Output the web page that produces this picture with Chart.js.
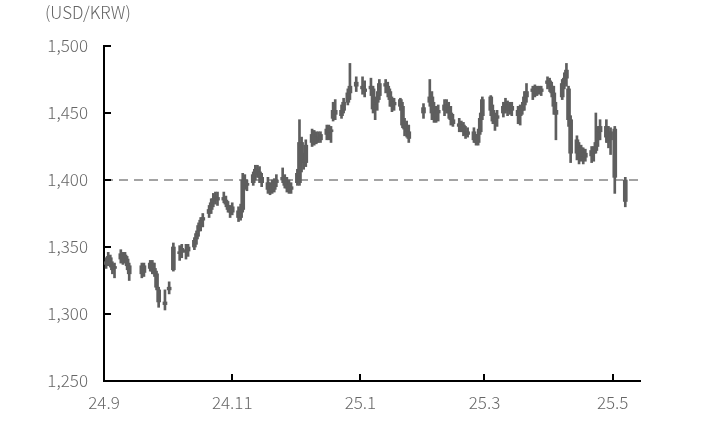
<!DOCTYPE html>
<html>
<head>
<meta charset="utf-8">
<script src="https://cdn.jsdelivr.net/npm/chart.js@4.4.1/dist/chart.umd.min.js"></script>
<style>
  html, body { margin: 0; padding: 0; background: #fff; }
  #wrap { width: 705px; height: 426px; position: relative; }
</style>
</head>
<body>
<div id="wrap"><canvas id="fxChart"></canvas></div>
<script>
// USD/KRW daily bars, Sep 2024 - May 2025
const dates = [
  '2024-09-02','2024-09-03','2024-09-04','2024-09-05','2024-09-06','2024-09-09','2024-09-10','2024-09-11','2024-09-12','2024-09-13',
  '2024-09-19','2024-09-20','2024-09-23','2024-09-24','2024-09-25','2024-09-26','2024-09-27','2024-09-30',
  '2024-10-02','2024-10-04','2024-10-07','2024-10-08','2024-10-10','2024-10-11','2024-10-14','2024-10-15','2024-10-16','2024-10-17',
  '2024-10-18','2024-10-21','2024-10-22','2024-10-23','2024-10-24','2024-10-25','2024-10-28','2024-10-29','2024-10-30','2024-10-31',
  '2024-11-01','2024-11-04','2024-11-05','2024-11-06','2024-11-07','2024-11-08','2024-11-11','2024-11-12','2024-11-13','2024-11-14',
  '2024-11-15','2024-11-18','2024-11-19','2024-11-20','2024-11-21','2024-11-22','2024-11-25','2024-11-26','2024-11-27','2024-11-28','2024-11-29',
  '2024-12-02','2024-12-03','2024-12-04','2024-12-05','2024-12-06','2024-12-09','2024-12-10','2024-12-11','2024-12-12','2024-12-13',
  '2024-12-16','2024-12-17','2024-12-18','2024-12-19','2024-12-20','2024-12-23','2024-12-24','2024-12-26','2024-12-27','2024-12-30',
  '2025-01-02','2025-01-03','2025-01-06','2025-01-07','2025-01-08','2025-01-09','2025-01-10','2025-01-13','2025-01-14','2025-01-15',
  '2025-01-16','2025-01-17','2025-01-20','2025-01-21','2025-01-22','2025-01-23','2025-01-24','2025-01-31',
  '2025-02-03','2025-02-04','2025-02-05','2025-02-06','2025-02-07','2025-02-10','2025-02-11','2025-02-12','2025-02-13','2025-02-14',
  '2025-02-17','2025-02-18','2025-02-19','2025-02-20','2025-02-21','2025-02-24','2025-02-25','2025-02-26','2025-02-27','2025-02-28',
  '2025-03-04','2025-03-05','2025-03-06','2025-03-07','2025-03-10','2025-03-11','2025-03-12','2025-03-13','2025-03-14','2025-03-17',
  '2025-03-18','2025-03-19','2025-03-20','2025-03-21','2025-03-24','2025-03-25','2025-03-26','2025-03-27','2025-03-28','2025-03-31',
  '2025-04-01','2025-04-02','2025-04-03','2025-04-04','2025-04-07','2025-04-08','2025-04-09','2025-04-10','2025-04-11','2025-04-14',
  '2025-04-15','2025-04-16','2025-04-17','2025-04-18','2025-04-21','2025-04-22','2025-04-23','2025-04-24','2025-04-25','2025-04-28',
  '2025-04-29','2025-04-30','2025-05-02','2025-05-07'
];

const open = [
  1337,1340,1342,1337,1334,1345,1342,1344,1341,1336, 1330,1336,1334,1338,1334,1330,1318,1309,
  1318,1333,1345,1346,1348,1347,1350,1356,1362,1366, 1370,1375,1378,1384,1385,1387,1387,1385,1381,1378,
  1376,1377,1372,1378,1400,1397,1398,1404,1408,1406, 1402,1398,1393,1395,1393,1398,1402,1400,1396,1394,1393,
  1398,1398,1428,1415,1413,1428,1434,1428,1432,1430, 1434,1438,1436,1446,1452,1448,1452,1458,1465,1470,
  1470,1468,1470,1468,1453,1458,1463,1472,1470,1466, 1458,1456,1460,1455,1442,1438,1436,1450,
  1458,1462,1450,1448,1450,1452,1456,1454,1450,1445, 1442,1440,1441,1436,1434,1436,1430,1428,1436,1448,
  1462,1452,1444,1446,1450,1455,1456,1452,1455,1452, 1448,1452,1456,1462,1466,1468,1465,1468,1466,1472,
  1474,1470,1465,1452,1462,1472,1476,1468,1445,1430, 1420,1424,1418,1420,1418,1422,1422,1430,1436,1440,
  1432,1430,1438,1400
];
const high = [
  1342,1346,1344,1339,1338,1348,1346,1346,1343,1338, 1338,1338,1340,1340,1338,1332,1320,1318,
  1324,1353,1351,1352,1352,1352,1357,1362,1368,1372, 1375,1381,1386,1390,1391,1391,1391,1388,1384,1381,
  1383,1380,1382,1405,1404,1400,1406,1411,1411,1410, 1405,1402,1398,1400,1401,1404,1409,1404,1402,1400,1398,
  1408,1445,1432,1420,1430,1438,1437,1436,1436,1436, 1441,1441,1440,1458,1460,1456,1461,1468,1487,1477,
  1477,1474,1476,1470,1460,1466,1475,1475,1473,1468, 1462,1461,1461,1458,1446,1444,1441,1457,
  1475,1466,1458,1455,1456,1460,1460,1458,1455,1449, 1446,1444,1443,1440,1439,1439,1434,1438,1450,1462,
  1463,1456,1450,1452,1458,1461,1459,1458,1458,1455, 1456,1458,1466,1472,1470,1471,1470,1470,1470,1477,
  1476,1473,1470,1458,1475,1480,1487,1470,1448,1433, 1428,1426,1424,1423,1425,1425,1450,1440,1445,1445,
  1440,1439,1440,1402
];
const low = [
  1334,1336,1335,1330,1327,1338,1337,1338,1333,1325, 1327,1328,1332,1330,1328,1318,1305,1303,
  1315,1332,1340,1342,1341,1343,1348,1352,1358,1362, 1365,1372,1375,1380,1382,1381,1383,1380,1376,1372,
  1374,1369,1370,1376,1393,1392,1396,1400,1402,1398, 1395,1390,1389,1390,1391,1395,1398,1394,1391,1390,1390,
  1396,1396,1406,1408,1410,1425,1426,1427,1428,1428, 1430,1430,1428,1444,1445,1446,1450,1456,1460,1466,
  1464,1462,1463,1450,1445,1452,1460,1465,1462,1455, 1451,1452,1452,1439,1433,1432,1428,1446,
  1455,1445,1443,1443,1444,1448,1450,1446,1441,1440, 1436,1436,1433,1431,1432,1428,1426,1426,1434,1445,
  1448,1442,1437,1440,1447,1450,1448,1449,1448,1442, 1441,1449,1452,1458,1460,1462,1463,1464,1463,1468,
  1466,1462,1449,1430,1460,1468,1470,1440,1413,1415, 1412,1414,1412,1414,1413,1414,1420,1425,1430,1428,
  1424,1419,1390,1380
];
const close = [
  1339,1343,1337,1333,1335,1341,1344,1340,1336,1330, 1336,1331,1338,1332,1330,1320,1309,1307,
  1320,1350,1346,1349,1346,1350,1355,1360,1366,1370, 1372,1378,1383,1386,1388,1385,1385,1382,1378,1376,
  1380,1372,1378,1400,1398,1396,1404,1408,1406,1402, 1398,1393,1396,1392,1398,1400,1400,1396,1394,1392,1395,
  1405,1428,1415,1413,1426,1434,1428,1432,1430,1434, 1438,1436,1437,1452,1449,1452,1458,1465,1470,1473,
  1468,1466,1468,1453,1456,1462,1472,1470,1466,1460, 1455,1458,1455,1441,1438,1436,1431,1454,
  1462,1450,1448,1450,1452,1456,1454,1450,1445,1442, 1440,1441,1436,1434,1436,1430,1428,1434,1446,1460,
  1452,1444,1446,1448,1455,1458,1452,1455,1452,1448, 1452,1455,1462,1466,1468,1465,1468,1466,1468,1474,
  1470,1465,1455,1449,1472,1476,1482,1445,1420,1420, 1424,1418,1420,1417,1422,1420,1428,1436,1440,1432,
  1428,1436,1402,1384
];

const tickDates = ['2024-09-01','2024-11-01','2025-01-01','2025-03-01','2025-05-01'];
const tickLabels = ['24.9','24.11','25.1','25.3','25.5'];
const refLevel = 1400;
const lastDate = '2025-05-14';

// days since the start of the axis
const start = Date.UTC(2024, 8, 1);
function dayNum(s) {
  const p = s.split('-');
  return (Date.UTC(+p[0], +p[1] - 1, +p[2]) - start) / 86400000;
}
const tickDays = tickDates.map(dayNum);
const xMax = dayNum(lastDate);

const wicks = dates.map((d, i) => ({ x: dayNum(d), y: [low[i], high[i]] }));
const bodies = dates.map((d, i) => ({ x: dayNum(d), y: [Math.min(open[i], close[i]), Math.max(open[i], close[i])] }));

const barColor = '#5e5e5e';
const textColor = '#666666';
const font = { family: '"Noto Sans CJK KR", "Noto Sans", sans-serif', size: 17, weight: 300 };

// tick marks drawn inside the plot area
const innerTicks = {
  id: 'innerTicks',
  afterDraw(chart) {
    const { ctx, chartArea: a, scales: { x, y } } = chart;
    ctx.save();
    ctx.strokeStyle = '#000';
    ctx.lineWidth = 2;
    y.ticks.forEach(t => {
      const py = Math.round(y.getPixelForValue(t.value));
      ctx.beginPath(); ctx.moveTo(a.left, py); ctx.lineTo(a.left + 7, py); ctx.stroke();
    });
    x.ticks.forEach(t => {
      const px = Math.round(x.getPixelForValue(t.value));
      ctx.beginPath(); ctx.moveTo(px, a.bottom); ctx.lineTo(px, a.bottom - 7); ctx.stroke();
    });
    ctx.restore();
  }
};

new Chart(document.getElementById('fxChart'), {
  type: 'bar',
  data: {
    datasets: [
      {
        type: 'line',
        data: [{ x: 0, y: refLevel }, { x: xMax, y: refLevel }],
        borderColor: '#a3a3a3',
        borderWidth: 2,
        borderDash: [9, 6],
        pointRadius: 0,
        order: 3
      },
      {
        data: wicks,
        backgroundColor: barColor,
        barThickness: 2,
        grouped: false,
        order: 2
      },
      {
        data: bodies,
        backgroundColor: barColor,
        barThickness: 4,
        minBarLength: 2,
        grouped: false,
        order: 1
      }
    ]
  },
  options: {
    responsive: true,
    maintainAspectRatio: false,
    animation: false,
    layout: { padding: { left: 45, right: 65, top: 0, bottom: 0 } },
    plugins: {
      legend: { display: false },
      tooltip: { enabled: false },
      title: {
        display: true,
        text: '(USD/KRW)',
        align: 'start',
        color: textColor,
        font: font,
        padding: { top: 2, bottom: 23.6 }
      }
    },
    scales: {
      x: {
        type: 'linear',
        min: 0,
        max: xMax,
        offset: false,
        grid: { display: false, offset: false, drawTicks: false },
        border: { color: '#000', width: 2 },
        afterBuildTicks: s => { s.ticks = tickDays.map(v => ({ value: v })); },
        afterFit: s => { s.height = 45; },
        ticks: {
          autoSkip: false,
          maxRotation: 0,
          padding: 11,
          color: textColor,
          font: font,
          callback: (v, i) => tickLabels[i]
        }
      },
      y: {
        min: 1250,
        max: 1500,
        grid: { display: false, drawTicks: false },
        border: { color: '#000', width: 2 },
        afterFit: s => { s.width = 59; },
        ticks: {
          stepSize: 50,
          padding: 16,
          color: textColor,
          font: font,
          callback: v => v.toLocaleString('en-US')
        }
      }
    }
  },
  plugins: [innerTicks]
});
</script>
</body>
</html>
